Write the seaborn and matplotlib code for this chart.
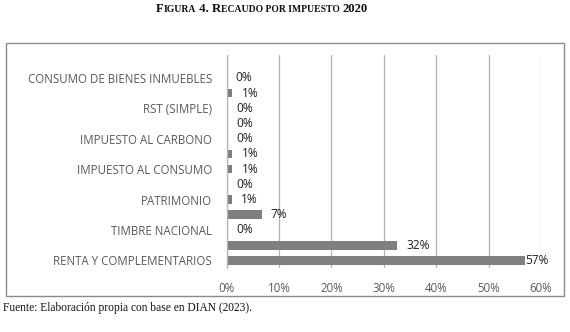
import numpy as np
import pandas as pd
import matplotlib
matplotlib.use("Agg")
import matplotlib.pyplot as plt
from matplotlib.patches import Rectangle
import seaborn as sns

# ---- data (top to bottom as drawn) ----
categories = [
    "",
    "CONSUMO DE BIENES INMUEBLES",
    "GASOLINA Y ACPM",
    "RST (SIMPLE)",
    "NORMALIZACIÓN TRIBUTARIA",
    "IMPUESTO AL CARBONO",
    "ARANCELES",
    "IMPUESTO AL CONSUMO",
    "OTROS",
    "PATRIMONIO",
    "GMF",
    "TIMBRE NACIONAL",
    "IVA",
    "RENTA Y COMPLEMENTARIOS",
]
values = [np.nan, 0.0, 1.1, 0.2, 0.2, 0.2, 1.1, 1.1, 0.2, 1.0, 6.7, 0.1, 32.5, 56.9]
tick_labels = [
    "",
    "CONSUMO DE BIENES INMUEBLES",
    "",
    "RST (SIMPLE)",
    "",
    "IMPUESTO AL CARBONO",
    "",
    "IMPUESTO AL CONSUMO",
    "",
    "PATRIMONIO",
    "",
    "TIMBRE NACIONAL",
    "",
    "RENTA Y COMPLEMENTARIOS",
]
x_ticks = [0, 10, 20, 30, 40, 50, 60]

df = pd.DataFrame({"cat": categories, "val": values}).dropna()

sns.set_theme(style="white")
plt.rcParams["font.family"] = ["Open Sans", "DejaVu Sans"]

W, H = 570, 332
fig = plt.figure(figsize=(W / 100, H / 100), dpi=100)
fig.patch.set_facecolor("white")

ax = fig.add_axes([226.7 / W, 1 - 268 / H, (541 - 226.7) / W, (268 - 55) / H])
sns.barplot(data=df, y="cat", x="val", order=categories, orient="h",
            color="#7f7f7f", saturation=1, width=0.57, errorbar=None, ax=ax,
            edgecolor="none")

ax.set_xlim(0, 60)
ax.set_ylim(len(categories) - 0.5, -0.5)
ax.set_xticks(x_ticks)
ax.set_xticklabels([f"{t}%" for t in x_ticks])
ax.set_yticks(range(len(categories)))
ax.set_yticklabels(tick_labels)
ax.set_xlabel("")
ax.set_ylabel("")
ax.tick_params(axis="y", length=0, pad=10.5, labelsize=8.3, labelcolor="#595959")
ax.tick_params(axis="x", length=0, pad=10, labelsize=8.3, labelcolor="#595959")
for s in ["top", "right", "bottom"]:
    ax.spines[s].set_visible(False)
ax.spines["left"].set_color("#b3b3b3")
ax.spines["left"].set_linewidth(0.9)
ax.grid(axis="x", color="#b3b3b3", linewidth=0.9)
ax.grid(axis="y", visible=False)
ax.set_axisbelow(True)
ax.set_facecolor("none")

# data labels
for i, v in enumerate(values):
    if np.isnan(v):
        continue
    off = 0 if v > 50 else 6.5
    ax.annotate(f"{round(v):d}%", xy=(v, i), xytext=(off, 0), textcoords="offset points",
                ha="left", va="center", fontsize=8.6, color="#1f1f1f")

# chart border
fig.patches.append(Rectangle((6 / W, 1 - 296 / H), (564 - 6) / W, (296 - 43) / H,
                             transform=fig.transFigure, fill=False,
                             edgecolor="#8a8a8a", linewidth=1.0))

# small-caps title
pieces = [("F", 9.2), ("IGURA", 6.9), (" 4. ", 9.2), ("R", 9.2),
          ("ECAUDO POR IMPUESTO ", 6.9), ("2020", 9.2)]
renderer = fig.canvas.get_renderer()
texts = []
for s, size in pieces:
    t = fig.text(0, 1 - 12 / H, s, fontsize=size, fontweight="bold",
                 family="Liberation Serif", ha="left", va="baseline", color="#111111")
    texts.append(t)
widths = [t.get_window_extent(renderer).width for t in texts]
total = sum(widths)
x = 262 - total / 2
for t, w in zip(texts, widths):
    t.set_x(x / W)
    x += w

fig.text(3 / W, 1 - 311.5 / H, "Fuente: Elaboración propia con base en DIAN (2023).",
         fontsize=8.3, family="Liberation Serif", ha="left", va="baseline", color="#111111")

fig.savefig("out.png", dpi=100)
